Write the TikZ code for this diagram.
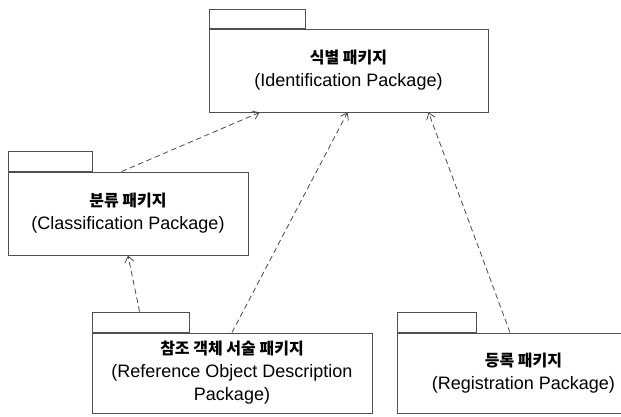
\documentclass[tikz,border=0pt]{standalone}
\usepackage{fontspec}
\setmainfont{Liberation Sans}
\newfontfamily\krfont{Noto Sans CJK KR}
\usetikzlibrary{arrows.meta}
\definecolor{boxline}{HTML}{505050}
\definecolor{depline}{HTML}{4A4A4A}
\newcommand{\kr}[1]{{\krfont\bfseries\fontsize{16}{23}\selectfont #1}}
\begin{document}
\begin{tikzpicture}[x=1pt,y=-1pt,
  pkgbody/.style={draw=boxline, line width=0.9pt, fill=white, inner sep=0pt,
    align=center, font=\fontsize{18}{23}\selectfont},
  pkgtab/.style={draw=boxline, line width=0.9pt, fill=white, inner sep=0pt, anchor=south west},
  dep/.style={draw=depline, line width=0.8pt, dash pattern=on 5.5pt off 3.5pt,
    -{Straight Barb[length=6pt,width=9pt]}}]
\useasboundingbox (0,0) rectangle (621,417);
\clip (0,0) rectangle (621,417);

% package bodies
\node[pkgbody, minimum width=279, minimum height=83] (ident) at (348.5,70.5)
  {\kr{식별 패키지}\\(Identification Package)};
\node[pkgbody, minimum width=240, minimum height=83] (class) at (128,213.5)
  {\kr{분류 패키지}\\(Classification Package)};
\node[pkgbody, minimum width=280, minimum height=80] (ref) at (232,373)
  {\kr{참조 객체 서술 패키지}\\(Reference Object Description\\Package)};
\node[pkgbody, minimum width=252, minimum height=80, anchor=west] (reg) at (397,373)
  {\kr{등록 패키지}\\(Registration Package)};

% package tabs
\node[pkgtab, minimum width=96, minimum height=19] (identtab) at (ident.north west) {};
\node[pkgtab, minimum width=84, minimum height=20] (classtab) at (class.north west) {};
\node[pkgtab, minimum width=97, minimum height=20] (reftab) at (ref.north west) {};
\node[pkgtab, minimum width=79, minimum height=20] (regtab) at (reg.north west) {};

% dependencies
\draw[dep] ([xshift=114pt]class.north west) -- ([xshift=51pt]ident.south west);
\draw[dep] (ref.north) -- ([xshift=-1pt]ident.south);
\draw[dep] ([xshift=113pt]reg.north west) -- ([xshift=220pt]ident.south west);
\draw[dep] ([xshift=48pt]reftab.north west) -- (class.south);
\end{tikzpicture}
\end{document}
